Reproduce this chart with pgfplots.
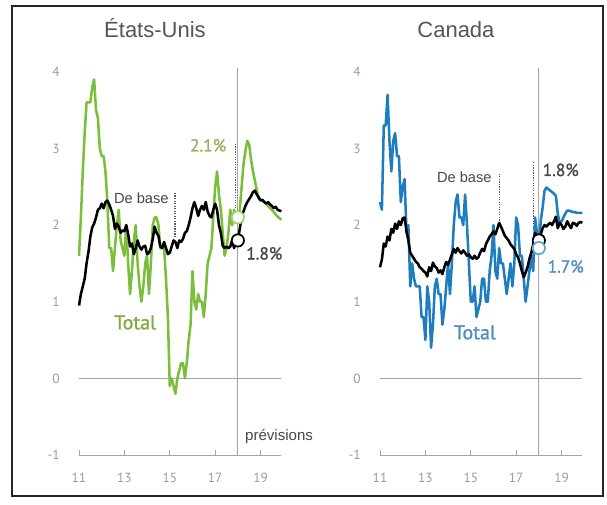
\documentclass[border=0pt]{standalone}
\usepackage{fontspec}
\setmainfont{Liberation Sans}
\newfontfamily\hfont{PT Sans}
\newfontfamily\hfontb[FakeBold=1.1]{PT Sans}
\usepackage{pgfplots}
\usepackage{pgfplotstable}
\pgfplotsset{compat=1.18}

\definecolor{usgreen}{RGB}{122,190,60}
\definecolor{usgreenlab}{RGB}{128,172,62}
\definecolor{pctgreen}{RGB}{150,178,90}
\definecolor{cablue}{RGB}{30,125,190}
\definecolor{cabluelab}{RGB}{75,142,192}
\definecolor{tickgray}{RGB}{155,155,155}
\definecolor{linegray}{RGB}{165,165,165}
\definecolor{titlegray}{RGB}{85,85,85}
\definecolor{labgray}{RGB}{70,70,70}
\definecolor{dotgray}{RGB}{90,90,90}

% Inflation, y/y %, monthly 2011-2019 (2018-2019: forecast)
\pgfplotstableread{
yr mo usT usC caT caC
11 1 1.6 0.95 2.3 1.45
11 2 2.1 1.10 2.2 1.55
11 3 2.7 1.20 3.3 1.76
11 4 3.2 1.30 3.3 1.72
11 5 3.6 1.50 3.7 1.85
11 6 3.6 1.65 3.1 1.80
11 7 3.6 1.85 2.7 1.95
11 8 3.8 1.97 3.1 1.90
11 9 3.9 2.02 3.2 2.02
11 10 3.5 2.10 2.9 1.95
11 11 3.4 2.20 2.9 2.05
11 12 3.0 2.22 2.3 2.00
12 1 2.9 2.28 2.5 2.09
12 2 2.9 2.22 2.6 2.10
12 3 2.7 2.30 1.9 1.92
12 4 2.3 2.32 2.0 1.80
12 5 1.7 2.27 1.2 1.64
12 6 1.7 2.20 1.5 1.60
12 7 1.4 2.12 1.3 1.56
12 8 1.7 1.95 1.2 1.52
12 9 2.0 2.02 1.2 1.50
12 10 2.2 1.98 1.2 1.45
12 11 1.8 1.90 0.8 1.43
12 12 1.7 1.93 0.8 1.40
13 1 1.6 1.92 0.5 1.38
13 2 2.0 2.00 1.2 1.33
13 3 1.5 1.88 1.0 1.45
13 4 1.1 1.72 0.4 1.40
13 5 1.4 1.76 0.7 1.51
13 6 1.8 1.62 1.2 1.46
13 7 2.0 1.70 1.3 1.44
13 8 1.5 1.80 1.1 1.38
13 9 1.2 1.72 1.1 1.41
13 10 1.0 1.68 0.7 1.36
13 11 1.2 1.72 0.9 1.45
13 12 1.5 1.73 1.2 1.52
14 1 1.6 1.62 1.5 1.48
14 2 1.1 1.64 1.1 1.55
14 3 1.5 1.70 1.5 1.62
14 4 2.0 1.82 2.0 1.69
14 5 2.1 1.98 2.3 1.64
14 6 2.1 1.90 2.4 1.70
14 7 2.0 1.86 2.1 1.66
14 8 1.7 1.72 2.1 1.63
14 9 1.7 1.70 2.0 1.67
14 10 1.7 1.78 2.4 1.64
14 11 1.3 1.70 2.0 1.60
14 12 0.8 1.62 1.5 1.62
15 1 -0.1 1.64 1.0 1.58
15 2 0.0 1.72 1.0 1.56
15 3 -0.1 1.80 1.2 1.60
15 4 -0.2 1.78 0.8 1.56
15 5 0.0 1.70 0.9 1.58
15 6 0.1 1.80 1.0 1.64
15 7 0.2 1.78 1.3 1.69
15 8 0.2 1.82 1.3 1.66
15 9 0.0 1.90 1.0 1.75
15 10 0.2 1.92 1.0 1.80
15 11 0.5 2.00 1.4 1.85
15 12 0.7 2.10 1.6 1.88
16 1 1.4 2.22 2.0 1.92
16 2 1.0 2.30 1.4 1.88
16 3 0.9 2.22 1.3 1.95
16 4 1.1 2.12 1.7 2.03
16 5 1.0 2.20 1.5 1.98
16 6 1.0 2.25 1.5 1.92
16 7 0.8 2.20 1.3 1.86
16 8 1.1 2.30 1.1 1.83
16 9 1.5 2.18 1.3 1.80
16 10 1.6 2.12 1.5 1.75
16 11 1.7 2.10 1.2 1.72
16 12 2.1 2.20 1.5 1.69
17 1 2.5 2.28 2.1 1.62
17 2 2.7 2.20 2.0 1.58
17 3 2.4 2.00 1.6 1.50
17 4 2.2 1.90 1.6 1.40
17 5 1.9 1.73 1.3 1.32
17 6 1.6 1.70 1.0 1.38
17 7 1.7 1.72 1.2 1.45
17 8 1.9 1.70 1.4 1.56
17 9 2.2 1.72 1.6 1.64
17 10 2.0 1.80 1.4 1.75
17 11 2.2 1.70 2.1 1.90
17 12 2.1 1.78 1.9 1.85
18 1 2.1 1.80 1.7 1.80
18 2 2.2 1.95 2.06 1.88
18 3 2.5 2.12 2.23 1.96
18 4 2.8 2.18 2.45 2.00
18 5 2.97 2.25 2.49 1.98
18 6 3.1 2.30 2.47 2.01
18 7 3.05 2.34 2.45 2.03
18 8 2.85 2.38 2.43 2.00
18 9 2.7 2.43 2.41 2.05
18 10 2.58 2.45 2.38 2.11
18 11 2.45 2.40 2.15 1.96
18 12 2.36 2.36 2.02 2.03
19 1 2.33 2.32 2.05 2.00
19 2 2.32 2.33 2.10 1.95
19 3 2.30 2.30 2.15 1.98
19 4 2.28 2.28 2.19 2.05
19 5 2.25 2.30 2.19 2.00
19 6 2.22 2.27 2.18 1.96
19 7 2.20 2.25 2.17 2.03
19 8 2.17 2.22 2.17 2.02
19 9 2.14 2.24 2.16 1.99
19 10 2.11 2.20 2.16 2.03
19 11 2.09 2.19 2.16 2.04
19 12 2.07 2.18 2.16 2.03
}\inflation

\pgfplotsset{
  panel/.style={
    scale only axis, width=151.5pt, height=290.25pt,
    xmin=11, xmax=19.9, ymin=-1, ymax=4.05,
    axis x line*=bottom, axis y line*=left,
    axis line style={-},
    x axis line style={draw=linegray, line width=0.7pt},
    y axis line style={draw=none},
    xtick={11,13,15,17,19}, ytick={-1,0,1,2,3,4},
    tick align=inside, major tick length=3.5pt,
    xtick style={draw=linegray, line width=0.7pt},
    ytick style={draw=none},
    /pgf/number format/assume math mode=true,
    tick label style={font=\hfont\fontsize{10}{12}\selectfont, text=tickgray},
    yticklabel style={xshift=-11pt},
    xticklabel style={yshift=-10pt},
    clip=false,
    title style={font=\fontsize{16.5}{18}\selectfont, text=titlegray,
      at={(0.376,1.059)}, anchor=base},
  },
  series/.style={line width=1.9pt, line join=round},
  ring/.style={only marks, mark=*, mark size=4.6pt,
    mark options={fill=white, draw=#1, line width=1.3pt}},
}

\begin{document}
\begin{tikzpicture}
\path (0,0) rectangle (455.25pt,378pt);
\draw[line width=1.5pt, black!85] (9pt,6pt) rectangle (452.25pt,373.5pt);

% United States
\begin{axis}[panel, at={(59.25pt,36.75pt)}, anchor=south west, title={États-Unis}]
\addplot[linegray, line width=0.7pt] coordinates {(11,0) (19.9,0)};
\addplot[linegray, line width=0.7pt] coordinates {(18,-1) (18,4.05)};
\addplot[usgreen, series] table[x expr=\thisrow{yr}+(\thisrow{mo}-1)/12, y=usT] {\inflation};
\addplot[black, series] table[x expr=\thisrow{yr}+(\thisrow{mo}-1)/12, y=usC] {\inflation};
\addplot[ring=usgreen!70] coordinates {(18,2.1)};
\addplot[ring=black] coordinates {(18,1.8)};
\draw[dotgray, densely dotted, line width=0.9pt] (axis cs:15.23,2.42) -- (axis cs:15.23,1.84);
\draw[dotgray, densely dotted, line width=0.9pt] (axis cs:17.9,3.06) -- (axis cs:17.9,2.22);
\node[anchor=east, inner sep=1pt, font=\fontsize{11}{13}\selectfont, text=labgray] at (axis cs:15.02,2.35) {De base};
\node[font=\hfontb\fontsize{15}{17}\selectfont, text=usgreenlab] at (axis cs:13.47,0.73) {Total};
\node[anchor=east, inner sep=1pt, font=\hfontb\fontsize{13}{15}\selectfont, text=pctgreen] at (axis cs:17.55,3.04) {2.1\%};
\node[anchor=west, inner sep=1pt, font=\hfontb\fontsize{13}{15}\selectfont, text=labgray] at (axis cs:18.3,1.63) {1.8\%};
\node[anchor=base west, inner sep=0pt, font=\fontsize{11.3}{13}\selectfont, text=labgray] at (axis cs:18.31,-0.81) {prévisions};
\end{axis}

% Canada
\begin{axis}[panel, at={(285pt,36.75pt)}, anchor=south west, title={Canada}]
\addplot[linegray, line width=0.7pt] coordinates {(11,0) (19.9,0)};
\addplot[linegray, line width=0.7pt] coordinates {(18,-1) (18,4.05)};
\addplot[cablue, series] table[x expr=\thisrow{yr}+(\thisrow{mo}-1)/12, y=caT] {\inflation};
\addplot[black, series] table[x expr=\thisrow{yr}+(\thisrow{mo}-1)/12, y=caC] {\inflation};
\addplot[ring=black] coordinates {(18,1.8)};
\addplot[ring=cablue!70] coordinates {(18,1.7)};
\draw[dotgray, densely dotted, line width=0.9pt] (axis cs:16.27,2.67) -- (axis cs:16.27,2.06);
\draw[dotgray, densely dotted, line width=0.9pt] (axis cs:17.76,2.82) -- (axis cs:17.76,1.95);
\node[anchor=east, inner sep=1pt, font=\fontsize{11}{13}\selectfont, text=labgray] at (axis cs:15.99,2.62) {De base};
\node[font=\hfontb\fontsize{15}{17}\selectfont, text=cabluelab] at (axis cs:15.18,0.6) {Total};
\node[anchor=west, inner sep=1pt, font=\hfontb\fontsize{13}{15}\selectfont, text=labgray] at (axis cs:18.1,2.72) {1.8\%};
\node[anchor=west, inner sep=1pt, font=\hfontb\fontsize{13}{15}\selectfont, text=cabluelab] at (axis cs:18.32,1.46) {1.7\%};
\end{axis}
\end{tikzpicture}
\end{document}
